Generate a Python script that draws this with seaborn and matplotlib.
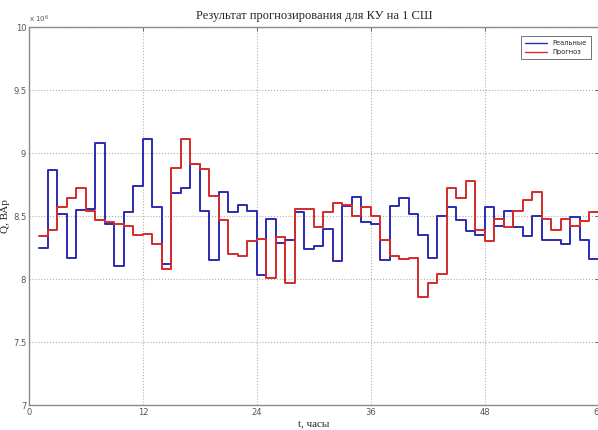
"""
Step chart: measured vs forecast reactive power (КУ на 1 СШ).
"""

import numpy as np
import pandas as pd
import matplotlib
matplotlib.use("Agg")
import matplotlib.pyplot as plt
import seaborn as sns

# ============================================================
# Data (values in units of 10^6 VAr)
# ============================================================
HOURS = list(range(1, 61))

REAL = [8.25, 8.865, 8.52, 8.17, 8.55, 8.56, 9.08, 8.44, 8.10, 8.53,
        8.74, 9.11, 8.57, 8.12, 8.68, 8.72, 8.91, 8.54, 8.15, 8.69,
        8.53, 8.59, 8.54, 8.03, 8.48, 8.29, 8.31, 8.53, 8.24, 8.26,
        8.40, 8.14, 8.58, 8.65, 8.45, 8.44, 8.15, 8.58, 8.64, 8.52,
        8.35, 8.17, 8.50, 8.57, 8.47, 8.38, 8.35, 8.57, 8.42, 8.54,
        8.41, 8.34, 8.50, 8.31, 8.31, 8.28, 8.49, 8.31, 8.16, 8.16]

FORECAST = [8.34, 8.39, 8.57, 8.64, 8.72, 8.54, 8.47, 8.45, 8.44, 8.42,
            8.35, 8.36, 8.28, 8.08, 8.88, 9.11, 8.91, 8.87, 8.66, 8.47,
            8.20, 8.18, 8.30, 8.32, 8.01, 8.33, 7.97, 8.56, 8.56, 8.41,
            8.53, 8.60, 8.59, 8.50, 8.57, 8.50, 8.31, 8.18, 8.16, 8.17,
            7.86, 7.97, 8.04, 8.72, 8.64, 8.78, 8.39, 8.30, 8.48, 8.41,
            8.54, 8.63, 8.69, 8.48, 8.39, 8.48, 8.42, 8.46, 8.53, 8.53]

SERIES_NAMES = ['Реальные', 'Прогноз']
COLORS = {'Реальные': '#2b2bb3', 'Прогноз': '#d42b2b'}

X_TICKS = [0, 12, 24, 36, 48, 60]
Y_TICKS = [7, 7.5, 8, 8.5, 9, 9.5, 10]
Y_TICK_LABELS = ['7', '7.5', '8', '8.5', '9', '9.5', '10']

TITLE = 'Результат прогнозирования для КУ на 1 СШ'
X_LABEL = 't, часы'
Y_LABEL = 'Q, ВАр'

# ============================================================
# Plot
# ============================================================
sns.set_style('white')
plt.rcParams['font.family'] = ['DejaVu Sans']

df = pd.concat([
    pd.DataFrame({'t': HOURS, 'Q': REAL, 'series': SERIES_NAMES[0]}),
    pd.DataFrame({'t': HOURS, 'Q': FORECAST, 'series': SERIES_NAMES[1]}),
], ignore_index=True)

fig = plt.figure(figsize=(5.98, 4.30), dpi=100)
ax = fig.add_axes([0.0485, 0.058, 0.953, 0.879])

sns.lineplot(data=df, x='t', y='Q', hue='series', palette=COLORS,
             hue_order=SERIES_NAMES, estimator=None, drawstyle='steps-post',
             linewidth=1.4, ax=ax, legend=True)

ax.set_xlim(0, 60)
ax.set_ylim(7, 10)
ax.set_xticks(X_TICKS)
ax.set_xticklabels([str(t) for t in X_TICKS])
ax.set_yticks(Y_TICKS)
ax.set_yticklabels(Y_TICK_LABELS)
ax.tick_params(direction='in', length=3, width=0.6, labelsize=6,
               colors='#555555', pad=2, top=True, right=True)
ax.grid(True, linestyle=':', color='#b0b0b0', linewidth=0.8)

for sp in ax.spines.values():
    sp.set_color('#8a8a8a')
    sp.set_linewidth(1.0)

serif = ['Liberation Serif', 'DejaVu Serif']
ax.set_title(TITLE, family=serif, fontsize=9, pad=6)
ax.set_xlabel(X_LABEL, family=serif, fontsize=8, labelpad=2)
ax.set_ylabel(Y_LABEL, family=serif, fontsize=8)
ax.yaxis.set_label_coords(-0.033, 0.5)
ax.text(0.0, 1.005, r'x 10$^6$', transform=ax.transAxes, fontsize=5,
        color='#555555', ha='left', va='bottom')

leg = ax.legend(loc='upper right', fontsize=4.8, frameon=True, fancybox=False,
                edgecolor='#333333', handlelength=3.4, borderpad=0.6,
                bbox_to_anchor=(0.992, 0.985))
leg.get_frame().set_linewidth(0.6)
for line in leg.get_lines():
    line.set_linewidth(1.0)

fig.savefig('out.png', dpi=100)
